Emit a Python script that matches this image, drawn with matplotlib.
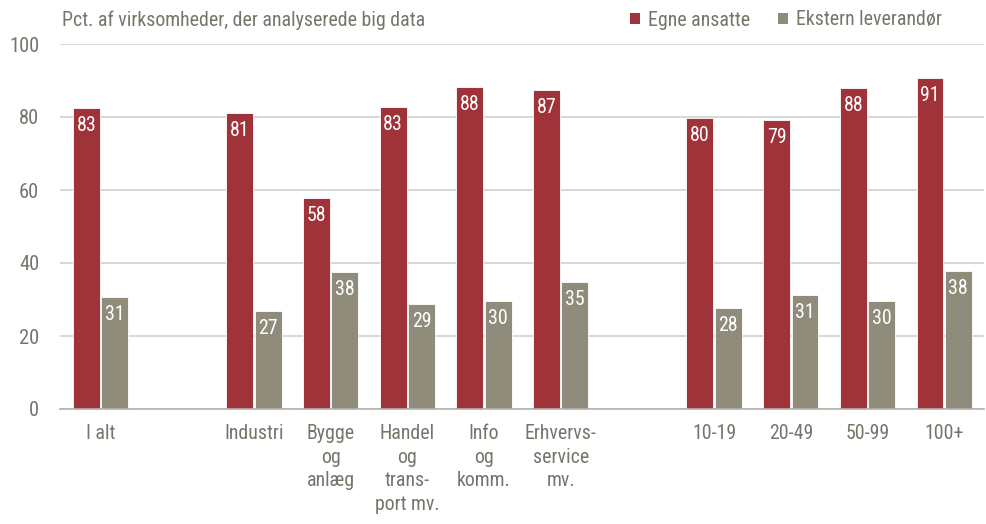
import matplotlib
matplotlib.use("Agg")
import matplotlib.pyplot as plt
from matplotlib import font_manager
from matplotlib.patches import Patch
import numpy as np

categories = ["I alt", "Industri", "Bygge\nog\nanlæg", "Handel\nog\ntrans-\nport mv.",
              "Info\nog\nkomm.", "Erhvervs-\nservice\nmv.", "10-19", "20-49", "50-99", "100+"]
positions = [0, 2, 3, 4, 5, 6, 8, 9, 10, 11]
egne = [82.6, 81.1, 57.8, 82.7, 88.2, 87.4, 79.7, 79.2, 87.9, 90.7]
ekstern = [30.7, 26.8, 37.6, 28.8, 29.6, 34.8, 27.6, 31.2, 29.6, 37.8]
series_names = ["Egne ansatte", "Ekstern leverandør"]
yticks = [0, 20, 40, 60, 80, 100]

names = {f.name for f in font_manager.fontManager.ttflist}
fam = [f for f in ["Liberation Sans Narrow", "Arial Narrow", "Roboto Condensed", "DejaVu Sans Condensed", "Liberation Sans"] if f in names]
plt.rcParams["font.family"] = fam + ["DejaVu Sans"]

RED = "#a0323a"
GRAY = "#8f8c7c"
TXT = "#77746a"
GRID = "#d3d1c9"
FS = 14.3

fig = plt.figure(figsize=(9.87, 5.24), dpi=100)
ax = fig.add_axes([60/987, 1 - 409/524, (984-60)/987, (409-44)/524])

w = 0.35
x = np.array(positions, dtype=float)
b1 = ax.bar(x - w/2 - 0.01, egne, width=w, color=RED, edgecolor="white", linewidth=0.6, zorder=3)
b2 = ax.bar(x + w/2 + 0.01, ekstern, width=w, color=GRAY, edgecolor="white", linewidth=0.6, zorder=3)

for bars, vals in ((b1, egne), (b2, ekstern)):
    for r, v in zip(bars, vals):
        ax.text(r.get_x() + r.get_width()/2, v - 2.2, f"{round(v):d}", ha="center", va="top",
                color="white", fontsize=FS, zorder=4)

ax.set_xlim(-0.53, 11.52)
ax.set_ylim(0, 100)
ax.set_yticks(yticks)
ax.set_yticklabels([str(t) for t in yticks], fontsize=FS + 0.5, color=TXT)
ax.set_xticks(x)
ax.set_xticklabels(categories, fontsize=FS, color=TXT, linespacing=1.3, va="top")
ax.tick_params(axis="both", length=0)
ax.tick_params(axis="x", pad=11)
ax.tick_params(axis="y", pad=15)
ax.grid(axis="y", color=GRID, linewidth=1.2, zorder=0)
for s in ["top", "right", "left"]:
    ax.spines[s].set_visible(False)
ax.spines["bottom"].set_color("#b5b2a6")
ax.spines["bottom"].set_linewidth(1.2)
ax.spines["bottom"].set_zorder(5)

fig.text(62/987, 1 - 20/524, "Pct. af virksomheder, der analyserede big data", fontsize=FS,
         color=TXT, ha="left", va="center")

handles = [Patch(facecolor=RED), Patch(facecolor=GRAY)]
fig.legend(handles, series_names, loc="center right", bbox_to_anchor=(942/987, 1 - 20/524),
           ncol=2, frameon=False, fontsize=FS, labelcolor=TXT, handlelength=0.5, handleheight=0.5,
           handletextpad=0.4, columnspacing=1.4, borderaxespad=0, borderpad=0)

fig.savefig("out.png", dpi=100)
